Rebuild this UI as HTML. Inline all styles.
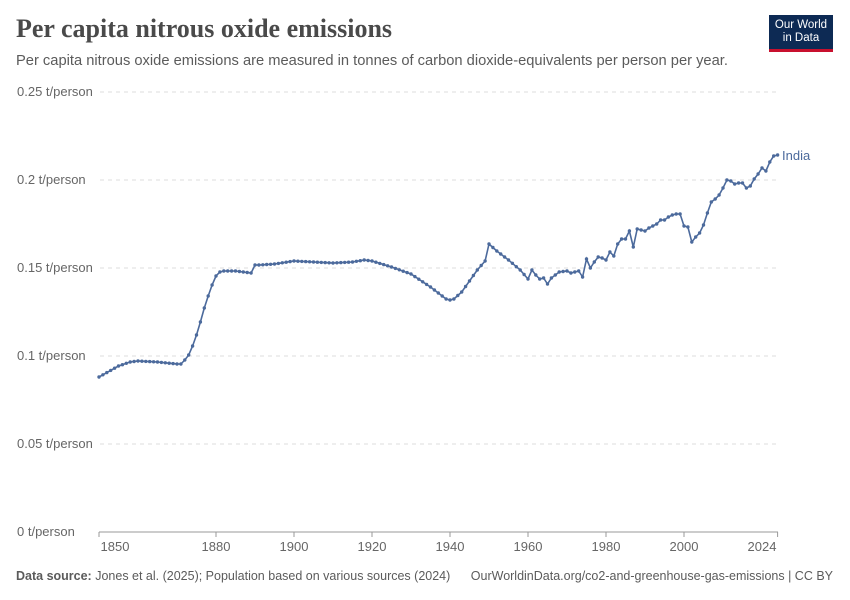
<!DOCTYPE html>
<html><head><meta charset="utf-8"><style>
body{margin:0;width:850px;height:600px;background:#fff;font-family:"Liberation Sans",sans-serif;overflow:hidden;position:relative}
.t{position:absolute;left:16px;top:14px;font-family:"Liberation Serif",serif;font-size:26px;font-weight:bold;color:#4a4a4a}
.s{position:absolute;left:16px;top:53px;font-size:14.7px;color:#5b5b5b}
.logo{position:absolute;left:769px;top:15px;width:64px;height:37px;background:#0d2a54;border-bottom:3px solid #c8102e;color:#fff;font-size:11.5px;text-align:center;line-height:13px;padding-top:4px;box-sizing:border-box}
.f{position:absolute;top:569px;font-size:12.5px;color:#5b5b5b}
</style></head><body>
<div class="t">Per capita nitrous oxide emissions</div>
<div class="s">Per capita nitrous oxide emissions are measured in tonnes of carbon dioxide-equivalents per person per year.</div>
<div class="logo">Our World<br>in Data</div>
<svg width="850" height="600" style="position:absolute;left:0;top:0" id="c"></svg>
<div class="f" style="left:16px"><b>Data source:</b> Jones et al. (2025); Population based on various sources (2024)</div>
<div class="f" style="right:17px">OurWorldinData.org/co2-and-greenhouse-gas-emissions | CC BY</div>
<script>
var k=[[1850,377],[1855,366],[1858,362],[1860,361],[1865,362],[1870,364],[1871,364],[1872,360],[1873,355],[1874,346],[1875,335],[1876,322],[1877,308],[1878,296],[1879,285],[1880,276],[1881,272],[1882,271],[1885,271],[1889,273],[1890,265],[1891,265],[1895,264],[1900,261],[1905,262],[1910,263],[1915,262],[1918,260],[1920,261],[1925,267],[1930,274],[1935,287],[1939,299],[1940,300],[1941,299],[1943,292],[1945,281],[1947,270],[1949,261],[1950,244],[1952,251],[1955,260],[1958,270],[1960,279],[1961,270],[1962,275],[1963,279],[1964,278],[1965,284],[1966,278],[1968,272],[1970,271],[1971,273],[1972,272],[1973,271],[1974,277],[1975,259],[1976,268],[1977,262],[1978,257],[1979,258],[1980,260],[1981,252],[1982,256],[1983,244],[1984,239],[1985,239],[1986,231],[1987,247],[1988,229],[1989,230],[1990,231],[1991,228],[1992,226],[1993,224],[1994,220],[1995,220],[1996,217],[1997,215],[1998,214],[1999,214],[2000,226],[2001,227],[2002,242],[2003,237],[2004,233],[2005,225],[2006,213],[2007,202],[2008,199],[2009,195],[2010,188],[2011,180],[2012,181],[2013,184],[2014,183],[2015,183],[2016,188],[2017,186],[2018,179],[2019,174],[2020,168],[2021,171],[2022,162],[2023,156],[2024,155]];
var s='',X=function(y){return 99+(y-1850)*3.9};
var labs=['0.25 t/person','0.2 t/person','0.15 t/person','0.1 t/person','0.05 t/person','0 t/person'];
for(var i=0;i<6;i++){var y=92+i*88;
s+='<text x="17" y="'+(y+4)+'" font-size="13" fill="#666">'+labs[i]+'</text>';
if(i<5)s+='<line x1="100" x2="778" y1="'+y+'" y2="'+y+'" stroke="#ddd" stroke-dasharray="4,4"/>';}
s+='<line x1="99" x2="778" y1="532" y2="532" stroke="#999"/>';
[[1850,115],[1880,216],[1900,294],[1920,372],[1940,450],[1960,528],[1980,606],[2000,684],[2024,762]].forEach(function(a){
s+='<line x1="'+X(a[0])+'" x2="'+X(a[0])+'" y1="532" y2="537" stroke="#999"/><text x="'+a[1]+'" y="551" font-size="13" fill="#666" text-anchor="middle">'+a[0]+'</text>';});
var pts=[];
for(var j=0;j<k.length-1;j++){var a=k[j],b=k[j+1];for(var yr=a[0];yr<b[0];yr++){pts.push([X(yr),a[1]+(b[1]-a[1])*(yr-a[0])/(b[0]-a[0])]);}}
pts.push([X(2024),155]);
s+='<polyline fill="none" stroke="#4c6a9c" stroke-width="1.6" points="'+pts.map(function(p){return p[0].toFixed(1)+','+p[1].toFixed(1)}).join(' ')+'"/>';
pts.forEach(function(p){s+='<circle cx="'+p[0].toFixed(1)+'" cy="'+p[1].toFixed(1)+'" r="1.7" fill="#4c6a9c"/>';});
s+='<text x="782" y="160" font-size="13" fill="#4c6a9c">India</text>';
document.getElementById('c').innerHTML=s;
</script>
</body></html>
